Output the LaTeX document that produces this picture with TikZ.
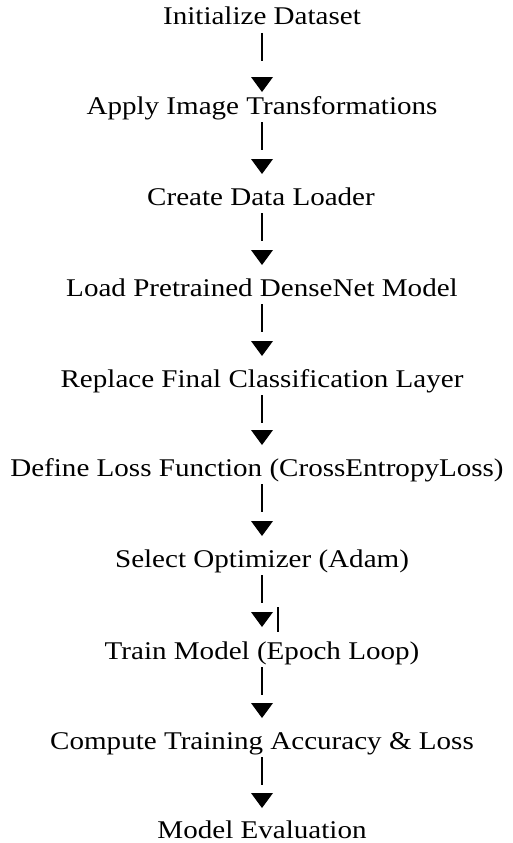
\documentclass[tikz,border=0pt]{standalone}
\usepackage{fontspec}
\setmainfont[FakeStretch=1.14]{Liberation Serif}
\usetikzlibrary{calc}
\tikzset{
  lbl/.style={anchor=base,inner sep=0pt,font=\fontsize{25.5pt}{28pt}\selectfont},
  conn/.style={line width=1.8pt},
  head/.style={fill=black}
}
\newcommand\flowlink[3]{%
  \draw[conn] ($(#1.base -| axis)+(0,8)$) -- ($(#1.base -| axis)+(0,36)$);
  \fill[head] ($(#2.base -| axis)+(-11,-#3-15)$) -- ($(#2.base -| axis)+(11,-#3-15)$) -- ($(#2.base -| axis)+(0,-#3)$) -- cycle;}
\begin{document}
\begin{tikzpicture}[x=1pt,y=-1pt]
\useasboundingbox (0,0) rectangle (513,843);
\coordinate (axis) at (262,0);
\node[lbl] (n1) at (262,25) {Initialize Dataset};
\node[lbl] (n2) at (262,114) {Apply Image Transformations};
\node[lbl] (n3) at (261,205) {Create Data Loader};
\node[lbl] (n4) at (262,296) {Load Pretrained DenseNet Model};
\node[lbl] (n5) at (262,387) {Replace Final Classification Layer};
\node[lbl] (n6) at (257,476) {Define Loss Function (CrossEntropyLoss)};
\node[lbl] (n7) at (262,567) {Select Optimizer (Adam)};
\node[lbl] (n8) at (262,659) {Train Model (Epoch Loop)};
\node[lbl] (n9) at (262,749) {Compute Training Accuracy \& Loss};
\node[lbl] (n10) at (262,838) {Model Evaluation};
\flowlink{n1}{n2}{22}
\flowlink{n2}{n3}{31}
\flowlink{n3}{n4}{31}
\flowlink{n4}{n5}{31}
\flowlink{n5}{n6}{31}
\flowlink{n6}{n7}{31}
\flowlink{n7}{n8}{32}
\flowlink{n8}{n9}{31}
\flowlink{n9}{n10}{30}
\draw[conn] ($(n8.base -| axis)+(16,-52)$) -- ($(n8.base -| axis)+(16,-27)$);
\end{tikzpicture}
\end{document}
